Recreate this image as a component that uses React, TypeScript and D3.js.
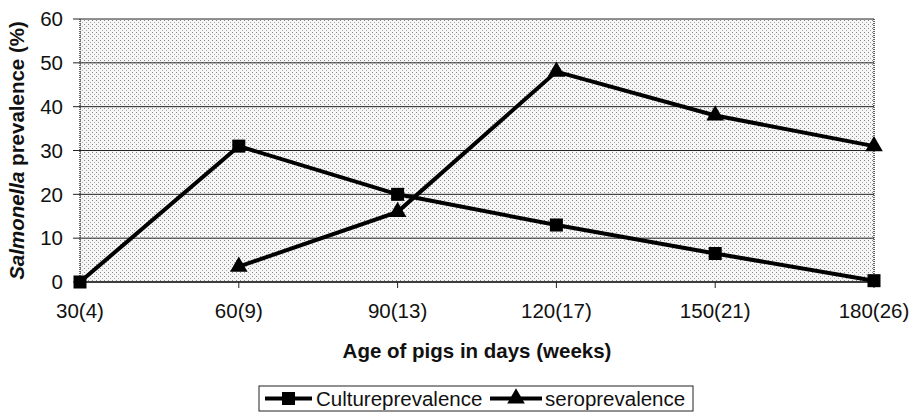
import React from 'react';
import * as d3 from 'd3';

const ages = ['30(4)', '60(9)', '90(13)', '120(17)', '150(21)', '180(26)'];
const culture = [0, 31, 20, 13, 6.5, 0.3];
const sero = [null, 3.5, 16, 48, 38, 31];
const yTicks = [0, 10, 20, 30, 40, 50, 60];

const width = 910;
const height = 413;
const margin = { top: 19, right: 36, bottom: 131, left: 80 };
const font = 'Arial, "Liberation Sans", sans-serif';
const fs = 20.5;

const App = () => {
  const x = d3.scalePoint<string>()
    .domain(ages)
    .range([margin.left, width - margin.right]);
  const y = d3.scaleLinear()
    .domain([0, 60])
    .range([height - margin.bottom, margin.top]);

  const line = d3.line<number | null>()
    .defined(d => d != null)
    .x((d, i) => x(ages[i]) as number)
    .y(d => y(d as number));

  const tri = d3.symbol().type(d3.symbolTriangle).size(135)();
  const sq = 13;

  const x0 = margin.left;
  const x1 = width - margin.right;
  const yb = y(0);

  return (
    <svg width={width} height={height} style={{ position: 'absolute', left: 0, top: 0 }}>
      <defs>
        <pattern id='dots' width='4' height='4' patternUnits='userSpaceOnUse'>
          <rect width='4' height='4' fill='#f6f6f6' />
          <rect x='0' y='0' width='1' height='1' fill='#8a8a8a' />
          <rect x='2' y='2' width='1' height='1' fill='#aaa' />
        </pattern>
      </defs>
      <rect x={x0} y={y(60)} width={x1 - x0} height={yb - y(60)} fill='url(#dots)' />

      {yTicks.map(t => (
        <g key={t}>
          <line x1={x0 - 7} x2={x1} y1={y(t)} y2={y(t)} stroke='#222' strokeWidth={1} />
          <text x={63} y={y(t)} dy='0.35em' textAnchor='end' fontFamily={font} fontSize={fs} fill='#111'>{t}</text>
        </g>
      ))}
      <line x1={x0} x2={x0} y1={y(60)} y2={yb} stroke='#333' strokeWidth={1.5} strokeDasharray='1 1' />
      <line x1={x1} x2={x1} y1={y(60)} y2={yb} stroke='#333' strokeWidth={1.5} strokeDasharray='1 1' />
      <line x1={x0} x2={x1} y1={yb} y2={yb} stroke='#222' strokeWidth={1.5} />

      {ages.map(a => (
        <g key={a}>
          <line x1={x(a)} x2={x(a)} y1={yb} y2={yb + 6} stroke='#222' />
          <text x={x(a)} y={yb + 36} textAnchor='middle' fontFamily={font} fontSize={fs} fill='#111'>{a}</text>
        </g>
      ))}

      <text x={(x0 + x1) / 2} y={358} textAnchor='middle' fontFamily={font} fontSize={fs} fontWeight='bold' fill='#111'>
        Age of pigs in days (weeks)
      </text>
      <text transform={`translate(24,${(y(60) + yb) / 2}) rotate(-90)`} textAnchor='middle' fontFamily={font} fontSize={fs} fontWeight='bold' fill='#111'>
        <tspan fontStyle='italic'>Salmonella</tspan> prevalence (%)
      </text>

      <path d={line(culture) as string} fill='none' stroke='#000' strokeWidth={4} />
      <path d={line(sero) as string} fill='none' stroke='#000' strokeWidth={4} />
      {culture.map((d, i) => (
        <rect key={'c' + i} x={(x(ages[i]) as number) - sq / 2} y={y(d) - sq / 2} width={sq} height={sq} fill='#000' />
      ))}
      {sero.map((d, i) => d == null ? null : (
        <path key={'s' + i} d={tri as string} transform={`translate(${x(ages[i])},${y(d)})`} fill='#000' />
      ))}

      <g>
        <rect x={259} y={386} width={434} height={25} fill='#fff' stroke='#222' strokeWidth={1} />
        <line x1={265} x2={312} y1={398.5} y2={398.5} stroke='#000' strokeWidth={4} />
        <rect x={288.5 - sq / 2} y={398.5 - sq / 2} width={sq} height={sq} fill='#000' />
        <text x={316} y={398.5} dy='0.35em' fontFamily={font} fontSize={fs} fill='#111'>Cultureprevalence</text>
        <line x1={490} x2={542} y1={398.5} y2={398.5} stroke='#000' strokeWidth={4} />
        <path d={tri as string} transform='translate(516,398.5)' fill='#000' />
        <text x={545} y={398.5} dy='0.35em' fontFamily={font} fontSize={fs} fill='#111'>seroprevalence</text>
      </g>
    </svg>
  );
};

export default App;
